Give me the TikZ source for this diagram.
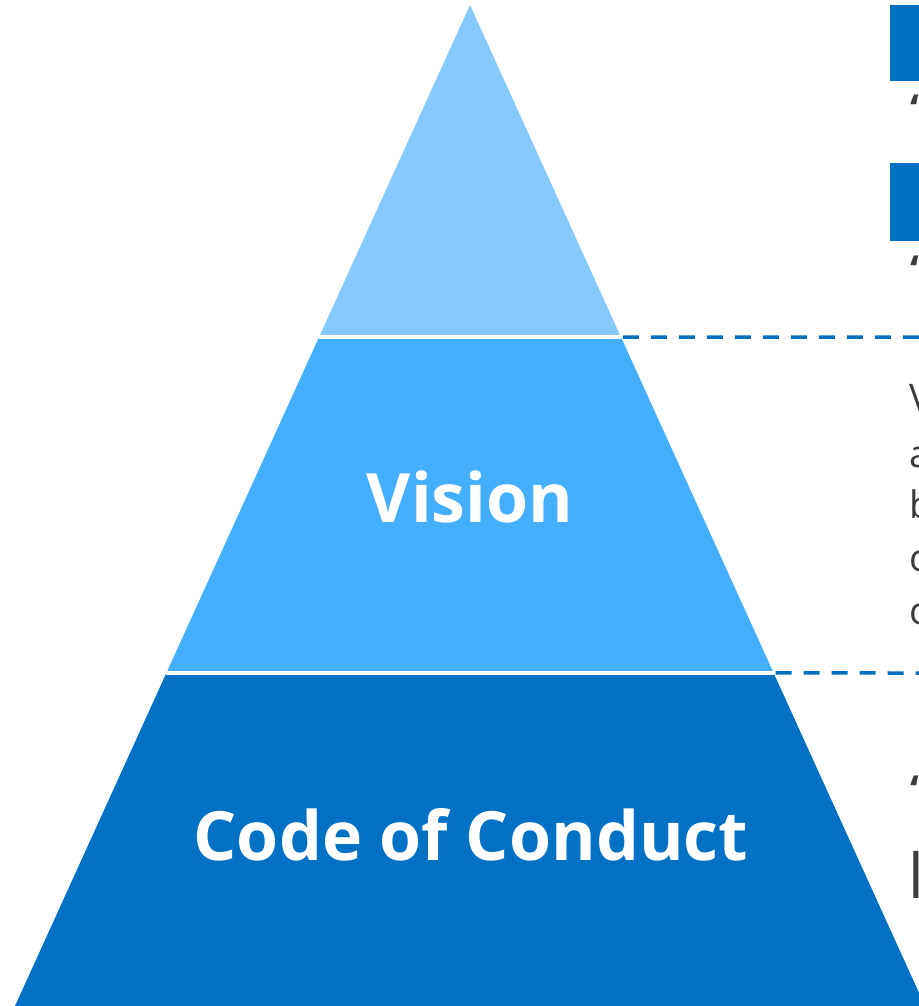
\documentclass[tikz,border=0pt]{standalone}
\usepackage{fontspec}
\setmainfont{Open Sans}
\usepackage{tikz}
\usetikzlibrary{calc,positioning}

\definecolor{tiertop}{HTML}{85C9FF}
\definecolor{tiermid}{HTML}{45AFFF}
\definecolor{tierbase}{HTML}{0071C5}
\definecolor{guideblue}{HTML}{0070C0}
\definecolor{bodygray}{HTML}{3C3C3C}

\tikzset{
	tierlabel/.style={text=white, font=\bfseries\fontsize{68}{80}\selectfont, inner sep=0pt, anchor=base},
	guideline/.style={guideblue, line width=3.5pt, dash pattern=on 16pt off 12pt},
	gapline/.style={white, line width=4pt},
	bodyletter/.style={text=bodygray, font=\fontsize{38}{46}\selectfont, inner sep=0pt, anchor=base west},
	headletter/.style={text=bodygray, font=\bfseries\fontsize{40}{48}\selectfont, inner sep=0pt, anchor=base west}
}

\begin{document}
\begin{tikzpicture}[x=1pt,y=-1pt]
    							\useasboundingbox (0,0) rectangle (918,1006);
    							\coordinate (apex) at (470,5);
   								\coordinate (baseL) at (15,1006);
   								\coordinate (baseR) at (925,1006);

								% levels of the pyramid
							    \coordinate (oneL) at ($(apex)!0.3317!(baseL)$);
							    \coordinate (oneR) at ($(apex)!0.3317!(baseR)$);
							    \coordinate (twoL) at ($(apex)!0.6673!(baseL)$);
							    \coordinate (twoR) at ($(apex)!0.6673!(baseR)$);

							    \fill[tiertop] (apex) -- (oneL) -- (oneR) -- cycle;
							    \fill[tiermid] (oneL) -- (twoL) -- (twoR) -- (oneR) -- cycle;
							    \fill[tierbase] (twoL) -- (baseL) -- (baseR) -- (twoR) -- cycle;

							    \draw[gapline] (oneL) -- (oneR);
							    \draw[gapline] (twoL) -- (twoR);

							    \node[tierlabel] (vision) at (470,522) {Vision};
							    \node[tierlabel] (conduct) at (471,860) {Code of Conduct};

								% guides to the right
							    \coordinate (oneEnd) at (920,337);
							    \coordinate (twoEnd) at (920,673);
							    \draw[guideline] (oneR) ++(2,0) -- (oneEnd);
							    \draw[guideline] (twoR) ++(2,0) -- (twoEnd);

							    \fill[guideblue] (890,5) rectangle (925,81);
							    \fill[guideblue] (890,163) rectangle (925,241);

							    \node[headletter] (headA) at (910,124) {“};
							    \node[headletter] (headB) at (910,284) {“};
							    \node[headletter] (headC) at (910,804) {“};

							    \node[bodyletter] (lineA) at (909,411) {V};
							    \node[bodyletter] (lineB) at (909,467) {a};
							    \node[bodyletter] (lineC) at (909,518) {b};
							    \node[bodyletter] (lineD) at (909,571) {c};
							    \node[bodyletter] (lineE) at (909,624) {c};
							    \node[text=bodygray, font=\fontsize{62}{70}\selectfont, inner sep=0pt, anchor=base west] (lineF) at (908,898) {l};
						  \end{tikzpicture}
\end{document}
